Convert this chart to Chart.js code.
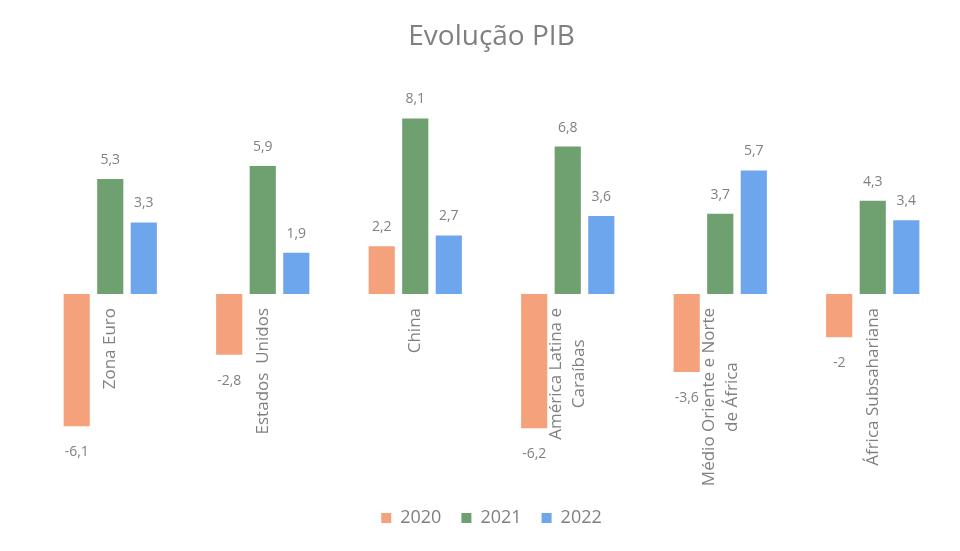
<!DOCTYPE html>
<html>
<head>
<meta charset="utf-8">
<script src="https://cdn.jsdelivr.net/npm/chart.js@4"></script>
<style>
  html, body { margin: 0; padding: 0; background: #fff; }
  #wrap { width: 960px; height: 551px; position: relative; }
</style>
</head>
<body>
<div id="wrap"><canvas id="grafico"></canvas></div>
<script>
// Dados
const regioes = [
    "Zona Euro",
    "Estados  Unidos",
    "China",
    ["América Latina e", "Caraíbas"],
    ["Médio Oriente e Norte", "de África"],
    "África Subsahariana"
];
const anos = ["2020", "2021", "2022"];
const pib2020 = [-6.1, -2.8, 2.2, -6.2, -3.6, -2];
const pib2021 = [5.3, 5.9, 8.1, 6.8, 3.7, 4.3];
const pib2022 = [3.3, 1.9, 2.7, 3.6, 5.7, 3.4];
const cores = ["#F5A27C", "#6FA06F", "#6EA6EE"];

const fonte = "'Open Sans', sans-serif";
const cinza = "#808080";

// Etiquetas com os valores (vírgula decimal)
const pluginValores = {
    id: 'valores',
    afterDatasetsDraw(chart) {
        const ctx = chart.ctx;
        ctx.save();
        ctx.font = "14px " + fonte;
        ctx.fillStyle = cinza;
        ctx.textAlign = 'center';
        ctx.textBaseline = 'middle';
        chart.data.datasets.forEach((ds, i) => {
            chart.getDatasetMeta(i).data.forEach((barra, j) => {
                const v = ds.data[j];
                const y = v >= 0 ? barra.y - 19 : barra.y + 26;
                ctx.fillText(String(v).replace('.', ','), barra.x, y);
            });
        });
        ctx.restore();
    }
};

// Nomes das regiões na vertical, junto ao eixo zero
const pluginRegioes = {
    id: 'regioes',
    afterDatasetsDraw(chart) {
        const ctx = chart.ctx;
        const x = chart.scales.x, y = chart.scales.y;
        const y0 = y.getPixelForValue(0) + 14;
        ctx.save();
        ctx.font = "17px " + fonte;
        ctx.fillStyle = cinza;
        ctx.textAlign = 'center';
        ctx.textBaseline = 'middle';
        regioes.forEach((nome, i) => {
            const linhas = Array.isArray(nome) ? nome : [nome];
            const larg = Math.max(...linhas.map(l => ctx.measureText(l).width));
            ctx.save();
            ctx.translate(x.getPixelForValue(i), y0);
            ctx.rotate(-Math.PI / 2);
            linhas.forEach((l, k) => {
                ctx.fillText(l, -larg / 2, (k - (linhas.length - 1) / 2) * 23);
            });
            ctx.restore();
        });
        ctx.restore();
    }
};

new Chart(document.getElementById('grafico'), {
    type: 'bar',
    data: {
        labels: regioes,
        datasets: [
            { label: anos[0], data: pib2020, backgroundColor: cores[0] },
            { label: anos[1], data: pib2021, backgroundColor: cores[1] },
            { label: anos[2], data: pib2022, backgroundColor: cores[2] }
        ]
    },
    options: {
        responsive: true,
        maintainAspectRatio: false,
        animation: false,
        datasets: { bar: { categoryPercentage: 0.66, barPercentage: 0.78 } },
        layout: { padding: { left: 34, right: 11, top: 7, bottom: 14 } },
        scales: {
            x: { display: false, grid: { display: false } },
            y: { display: false, min: -9, max: 11 }
        },
        plugins: {
            title: {
                display: true,
                text: 'Evolução PIB',
                color: cinza,
                font: { family: fonte, size: 28, weight: 'normal' },
                padding: { top: 13, bottom: 2 }
            },
            legend: {
                position: 'bottom',
                labels: {
                    color: cinza,
                    font: { family: fonte, size: 18 },
                    boxWidth: 10,
                    boxHeight: 10,
                    padding: 20
                }
            },
            tooltip: { enabled: false }
        }
    },
    plugins: [pluginValores, pluginRegioes]
});
</script>
</body>
</html>
